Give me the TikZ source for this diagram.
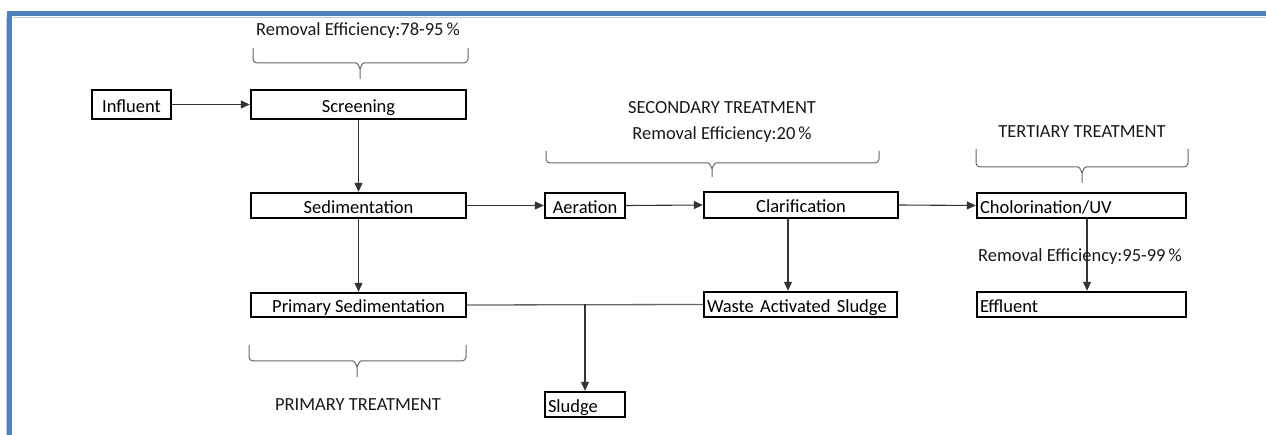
\documentclass[tikz,border=0pt]{standalone}
\usepackage{fontspec}
\setmainfont{Carlito}
\usetikzlibrary{arrows.meta}
\definecolor{frameblue}{HTML}{4F81BD}
\begin{document}
\begin{tikzpicture}[x=1pt,y=-1pt,
  font=\fontsize{18.5}{20}\selectfont,
  box/.style={draw=black,line width=2.4pt,inner ysep=0pt,inner xsep=3pt,minimum height=#1,text height=15.5pt,text depth=0pt},
  box/.default=25pt,
  lbox/.style={box,align=left,text width=#1},
  arr/.style={draw=black!80,line width=1.1pt,-{Triangle[length=9pt,width=8pt]}},
  conn/.style={draw=black!60,line width=1.3pt},
  brace/.style={draw=black!60,line width=1pt},
  lbl/.style={inner sep=0pt,text=black!90}]
\useasboundingbox (0,0) rectangle (1266,435);
% frame
\draw[frameblue,line width=5pt] (9.5,440) -- (9.5,13.5) -- (1270,13.5);
\draw[frameblue!40,line width=0.8pt] (6.5,440) -- (6.5,17.2);
\draw[frameblue!40,line width=0.8pt] (12.5,17.2) -- (1270,17.2);

% nodes
\node[box=29pt,minimum width=79pt] (infl) at (131.5,104.5) {Influent};
\node[box=29pt,minimum width=215pt] (scr) at (358.5,104.5) {Screening};
\node[box,minimum width=215pt] (sed) at (358.5,205.5) {Sedimentation};
\node[box,minimum width=80pt] (aer) at (585,205.5) {Aeration};
\node[box=26pt,minimum width=194pt] (cla) at (801,205) {Clarification};
\node[lbox=203pt] (chl) at (1081.5,205.5) {Cholorination/UV};
\node[box=24pt,minimum width=215pt] (psed) at (358.5,305) {Primary Sedimentation};
\node[lbox=187pt,inner xsep=3pt] (was) at (800.5,304.5) {Waste Activated Sludge};
\node[lbox=203pt] (eff) at (1081.5,304.5) {Effluent};
\node[lbox=74pt] (slu) at (585,404.5) {Sludge};

% labels
\node[lbl] (t1) at (358,31) {Removal Efficiency:78-95\,\%};
\node[lbl] (t2) at (722,108) {SECONDARY TREATMENT};
\node[lbl] (t3) at (722,135) {Removal Efficiency:20\,\%};
\node[lbl] (t4) at (1082,132) {TERTIARY TREATMENT};
\node[lbl] (t6) at (358,405) {PRIMARY TREATMENT};

% helper coordinates
\coordinate (cx1) at (788,0);
\coordinate (cx2) at (1087,0);
\coordinate (j) at (585,304.5);

% connectors
\draw[arr] (infl.east) -- (scr.west);
\draw[arr] (scr.south) -- (sed.north);
\draw[arr] (sed.south) -- (psed.north);
\draw[arr] (sed.east) -- (aer.west);
\draw[arr] (aer.east) -- (cla.west);
\draw[arr] (cla.east) -- (chl.west);
\draw[arr] (cla.south -| cx1) -- (was.north -| cx1);
\draw[arr] (chl.south -| cx2) -- (eff.north -| cx2);
\draw[conn] (psed.east) -- (was.west);
\draw[arr] (j) -- (slu.north);

\node[lbl] (t5) at (1080,257) {Removal Efficiency:95-99\,\%};

% braces
\foreach \xa/\xb/\yt/\yh/\ytip/\xc in {253/468/48/63/79/360, 546/879/151/163/177/712, 976/1188/149/167/183/1082, 249/466/345/361/377/357}{
  \draw[brace] (\xa,\yt) -- (\xa,\yh-4) to[out=-90,in=180] (\xa+4,\yh) -- (\xc-4,\yh) to[out=0,in=-90] (\xc,\yh+5) -- (\xc,\ytip);
  \draw[brace] (\xc,\yh+5) to[out=-90,in=180] (\xc+4,\yh) -- (\xb-4,\yh) to[out=0,in=-90] (\xb,\yh-4) -- (\xb,\yt);
}
\end{tikzpicture}
\end{document}
